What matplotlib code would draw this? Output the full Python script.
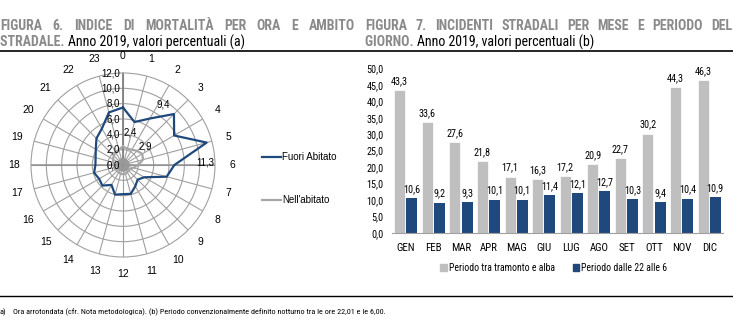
import numpy as np
import matplotlib
matplotlib.use('Agg')
import matplotlib.pyplot as plt
from matplotlib import font_manager as fm
from matplotlib.lines import Line2D
from matplotlib.patches import Patch

W, H = 733, 327

# carattere stretto (tipo Arial Narrow) solo se ha sia il tondo che il neretto
weights = {}
for f in fm.fontManager.ttflist:
    if 'Narrow' in f.name or 'Condensed' in f.name:
        w = f.weight if isinstance(f.weight, int) else 400
        weights.setdefault(f.name, set()).add(w)
narrow = None
for name in ['Liberation Sans Narrow', 'Arial Narrow', 'Roboto Condensed'] + sorted(weights):
    ws = weights.get(name, set())
    if 400 in ws and 700 in ws:
        narrow = name
        break
NFAM = [narrow, 'DejaVu Sans'] if narrow else ['Liberation Sans', 'DejaVu Sans']
plt.rcParams['font.family'] = ['Liberation Sans', 'DejaVu Sans']

# --- dati figura 6 (radar) ---
hours = [str(h) for h in range(24)]
fuori_abitato = [7.5, 5.8, 7.0, 9.4, 7.7, 11.3, 6.7, 5.9, 3.2, 2.7, 3.2, 3.9,
                 3.8, 4.0, 3.0, 3.8, 3.6, 3.9, 3.6, 3.7, 4.1, 4.9, 5.5, 7.1]
nell_abitato = [2.4, 2.2, 2.3, 2.6, 2.9, 2.7, 2.0, 1.4, 1.1, 1.0, 1.1, 1.2,
                1.2, 1.2, 1.1, 1.1, 1.1, 1.2, 1.2, 1.3, 1.5, 1.7, 1.9, 2.1]
radial_ticks = [0, 2, 4, 6, 8, 10, 12]

# --- dati figura 7 (barre) ---
mesi = ['GEN', 'FEB', 'MAR', 'APR', 'MAG', 'GIU', 'LUG', 'AGO', 'SET', 'OTT', 'NOV', 'DIC']
tramonto_alba = [43.3, 33.6, 27.6, 21.8, 17.1, 16.3, 17.2, 20.9, 22.7, 30.2, 44.3, 46.3]
dalle_22_alle_6 = [10.6, 9.2, 9.3, 10.1, 10.1, 11.4, 12.1, 12.7, 10.3, 9.4, 10.4, 10.9]
y_ticks = [0, 5, 10, 15, 20, 25, 30, 35, 40, 45, 50]

GRAY_T = '#8a8a8a'
BLUE = '#1f497d'
LGRAY = '#bfbfbf'
RGRAY = '#a6a6a6'


def fx(x):
    return x / W


def fy(y):
    return 1 - y / H


def it(v):
    return ('%.1f' % v).replace('.', ',')


fig = plt.figure(figsize=(W / 100, H / 100), dpi=100)
renderer = fig.canvas.get_renderer()


def width_of(objs):
    return sum(o.get_window_extent(renderer).width for o in objs)


def justified(words, x0, x1, y, size, **kw):
    # testo giustificato: riduce il corpo se non entra, poi distribuisce gli spazi
    objs = [fig.text(0, fy(y), w, va='baseline', family=NFAM, fontsize=size, **kw) for w in words]
    while width_of(objs) + 3.5 * (len(words) - 1) > x1 - x0:
        size -= 0.1
        for o in objs:
            o.set_fontsize(size)
    widths = [o.get_window_extent(renderer).width for o in objs]
    gap = (x1 - x0 - sum(widths)) / (len(words) - 1)
    x = x0
    for o, w in zip(objs, widths):
        o.set_x(fx(x))
        x += w + gap


def mixed(parts, x0, x1, y, size):
    objs = [fig.text(0, fy(y), s, va='baseline', family=NFAM, fontsize=size, **kw) for s, kw in parts]
    while width_of(objs) > x1 - x0:
        size -= 0.1
        for o in objs:
            o.set_fontsize(size)
    x = x0
    for o in objs:
        o.set_x(fx(x))
        x += o.get_window_extent(renderer).width


bold = dict(fontweight='bold', color=GRAY_T)
reg = dict(color='black')

justified('FIGURA 6. INDICE DI MORTALITÀ PER ORA E AMBITO'.split(), 0, 355, 29.5, 10, **bold)
mixed([('STRADALE. ', bold), ('Anno 2019, valori percentuali (a)', reg)], 0, 250, 46.5, 10)
justified('FIGURA 7. INCIDENTI STRADALI PER MESE E PERIODO DEL'.split(), 365, 732, 29.5, 10, **bold)
mixed([('GIORNO. ', bold), ('Anno 2019, valori percentuali (b)', reg)], 365, 600, 46.5, 10)

fig.add_artist(Line2D([0, 1], [fy(51), fy(51)], color='black', lw=1.2))
fig.add_artist(Line2D([0, 1], [fy(296), fy(296)], color='black', lw=1.0))
fig.text(fx(0), fy(314), 'a)', fontsize=6, family=NFAM)
mixed([('Ora arrotondata (cfr. Nota metodologica). (b) Periodo convenzionalmente '
        'definito notturno tra le ore 22,01 e le 6,00.', {})], 13, 390, 314, 6.5)

# --- radar ---
cx, cy, R = 123, 165, 92
ax = fig.add_axes([fx(cx - R), fy(cy + R), 2 * R / W, 2 * R / H], projection='polar')
ax.set_theta_zero_location('N')
ax.set_theta_direction(-1)
theta = np.deg2rad(np.arange(24) * 15)
tc = np.append(theta, theta[0])
ax.plot(tc, nell_abitato + nell_abitato[:1], color=RGRAY, lw=1.6, zorder=3)
ax.plot(tc, fuori_abitato + fuori_abitato[:1], color=BLUE, lw=1.6, zorder=4)
ax.set_ylim(0, 12)
ax.set_rgrids(radial_ticks[1:-1], labels=[''] * 5)
ax.set_thetagrids(np.arange(24) * 15, hours, fontsize=7.5)
ax.tick_params(axis='x', pad=2)
ax.grid(color='#a0a0a0', lw=0.8)
ax.spines['polar'].set_color('#a0a0a0')
ax.spines['polar'].set_linewidth(0.8)
ax.plot([0, 0], [0, 12], color='#808080', lw=1.3, zorder=2)
ax.plot([np.pi / 2, np.pi / 2], [0, 12], color='#909090', lw=1.1, zorder=2)
ax.plot([3 * np.pi / 2, 3 * np.pi / 2], [0, 12], color='#909090', lw=1.1, zorder=2)
ax.plot(np.linspace(0, 2 * np.pi, 60), [0.5] * 60, color='#999999', lw=4, zorder=2)
for r in radial_ticks:
    ax.annotate(it(r), (0, r), xytext=(-2, 0), textcoords='offset points',
                ha='right', va='center', fontsize=7, zorder=6)
ax.annotate('9,4', (theta[3], 9.4), xytext=(-8, 3), textcoords='offset points',
            ha='center', va='bottom', fontsize=7)
ax.annotate('11,3', (theta[6], 11.3), xytext=(-3, 2), textcoords='offset points',
            ha='center', va='center', fontsize=7)
ax.annotate('2,4', (theta[1], 2.4), xytext=(2, 7), textcoords='offset points',
            ha='center', va='bottom', fontsize=7)
ax.annotate('2,9', (theta[4], 2.9), xytext=(2, 2), textcoords='offset points',
            ha='center', va='bottom', fontsize=7)

# legenda radar
fig.add_artist(Line2D([fx(262), fx(281)], [fy(157), fy(157)], color=BLUE, lw=1.6))
fig.text(fx(282), fy(157), 'Fuori Abitato', fontsize=7, va='center')
fig.add_artist(Line2D([fx(262), fx(281)], [fy(200), fy(200)], color=RGRAY, lw=1.6))
fig.text(fx(282), fy(200), "Nell'abitato", fontsize=7, va='center')

# --- barre ---
bx = fig.add_axes([fx(392), fy(233), 331 / W, (233 - 68.3) / H])
x = np.arange(len(mesi))
bw = 0.4
b1 = bx.bar(x - 0.22, tramonto_alba, bw, color=LGRAY, edgecolor='white', lw=0.5)
b2 = bx.bar(x + 0.22, dalle_22_alle_6, bw, color=BLUE)
for rect, v in zip(list(b1) + list(b2), tramonto_alba + dalle_22_alle_6):
    bx.annotate(it(v), (rect.get_x() + rect.get_width() / 2, v), xytext=(0, 3),
                textcoords='offset points', ha='center', va='bottom', fontsize=7.3,
                family=NFAM)
bx.set_xlim(-0.5, len(mesi) - 0.5)
bx.set_ylim(0, 50)
bx.set_yticks(y_ticks)
bx.set_yticklabels([it(v) for v in y_ticks], fontsize=7.3, family=NFAM)
bx.set_xticks(x)
bx.set_xticklabels(mesi, fontsize=7.8, family=NFAM)
bx.tick_params(length=0)
bx.tick_params(axis='y', pad=6)
bx.tick_params(axis='x', pad=7)
for s in ['top', 'right', 'left']:
    bx.spines[s].set_visible(False)
bx.spines['bottom'].set_color('#a0a0a0')
fig.legend([Patch(color=LGRAY), Patch(color=BLUE)],
           ['Periodo tra tramonto e alba', 'Periodo dalle 22 alle 6'],
           loc='center', bbox_to_anchor=(fx(554), fy(268)), ncol=2, frameon=False,
           prop={'family': NFAM, 'size': 7}, handlelength=0.7, handleheight=0.7,
           handletextpad=0.2, columnspacing=1.8)

fig.savefig('out.png', dpi=100)
